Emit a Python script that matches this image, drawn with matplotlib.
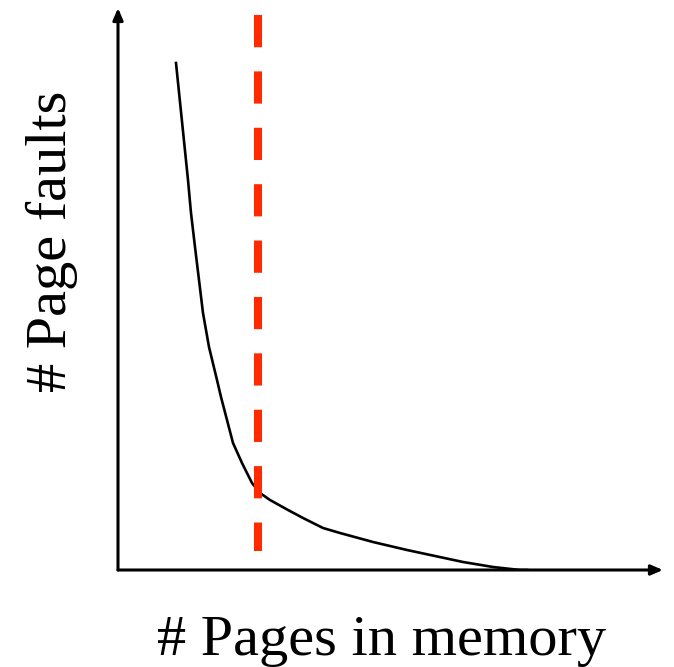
import matplotlib
matplotlib.use("Agg")
import matplotlib.pyplot as plt

# curve (arbitrary units, origin at the axes corner)
pages = [58, 70, 73, 77, 81, 85, 91, 99, 103, 109, 115, 124, 134, 142, 152,
         170, 185, 205, 222, 255, 289, 345, 375, 402, 409]
faults = [507, 390, 357, 323, 290, 257, 223, 190, 173, 150, 127, 107, 87, 77, 70,
          60, 52, 42, 37, 28, 20, 8, 3, 0, 0]

cutoff_x = 140
cutoff_y = [555, 19]

xlabel = "# Pages in memory"
ylabel = "# Page faults"

W, H = 674, 667
fig = plt.figure(figsize=(W / 100, H / 100), dpi=100)
fig.patch.set_facecolor("white")

ax = fig.add_axes([118 / W, (H - 570) / H, (663 - 118) / W, (570 - 8) / H])
ax.set_xlim(0, 545)
ax.set_ylim(0, 562)
ax.axis("off")

# axes with arrow heads
arrow = dict(arrowstyle="-|>,head_length=0.7,head_width=0.3", color="black", lw=2.2,
             shrinkA=0, shrinkB=0)
ax.annotate("", xy=(1, 0), xytext=(0, 0), xycoords="axes fraction", arrowprops=arrow)
ax.annotate("", xy=(0, 1), xytext=(0, 0), xycoords="axes fraction", arrowprops=arrow)

ax.plot(pages, faults, color="black", lw=1.9, solid_joinstyle="round")
ax.plot([cutoff_x, cutoff_x], cutoff_y, color="#ff2a00", lw=5.8, dashes=(4, 3))

fig.text(382 / W, 1 - 655 / H, xlabel, ha="center", va="baseline",
         family="Liberation Serif", fontsize=42)
fig.text(52 / W, 1 - 241 / H, ylabel, ha="center", va="center", rotation=90,
         family="Liberation Serif", fontsize=42)

fig.savefig("out.png", dpi=100, facecolor="white")
